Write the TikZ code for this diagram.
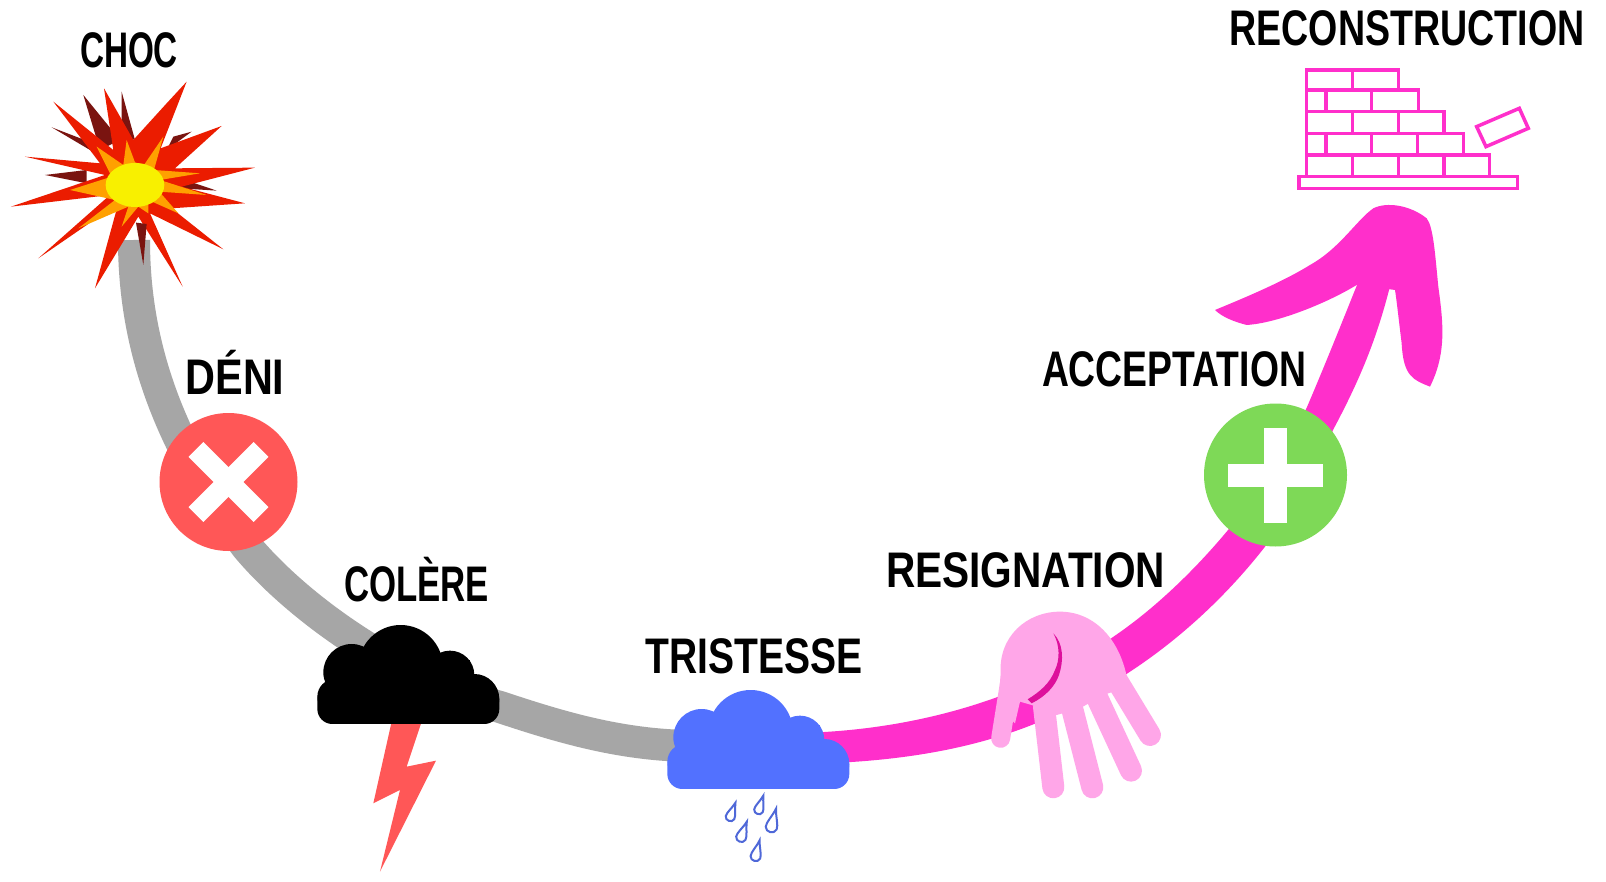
\documentclass[tikz,border=0pt]{standalone}
\usepackage{graphicx}
\usepackage{fontspec}
\usetikzlibrary{calc}
\setmainfont{Liberation Sans}
\definecolor{graycurve}{HTML}{A6A6A6}
\definecolor{pinkcurve}{HTML}{FF2FCB}
\definecolor{redsoft}{HTML}{FF5757}
\definecolor{greensoft}{HTML}{7ED957}
\definecolor{bluesoft}{HTML}{5271FF}
\definecolor{dropblue}{HTML}{4F68D8}
\definecolor{handpink}{HTML}{FFA6E8}
\definecolor{handline}{HTML}{DD109C}
\definecolor{burstred}{HTML}{EB1C00}
\definecolor{burstdark}{HTML}{7A1410}
\definecolor{burstorange}{HTML}{FFA000}
\definecolor{burstyellow}{HTML}{F8F000}
\pgfdeclareradialshading{burstcore}{\pgfpoint{0bp}{0bp}}{color(0bp)=(burstyellow);color(28bp)=(burstyellow);color(50bp)=(burstorange)}
\newbox\labbox
\newcommand\lab[2]{\setbox\labbox\hbox{\bfseries #2}\pgfmathsetmacro\labsx{#1/\the\wd\labbox}\scalebox{\labsx}[1]{\box\labbox}}
\newcommand\cloudat[3]{\begin{scope}[shift={(#1,#2)},scale=.3333]
    \fill[#3,rounded corners=15pt] (22,225) rectangle (568,342);
    \fill[#3] (272,172) circle (127);
    \fill[#3] (125,187) circle (85);
    \fill[#3] (420,195) circle (73);
    \fill[#3] (493,267) circle (75);
    \fill[#3] (75,260) circle (53);
    \fill[#3] (100,150) rectangle (480,300);
\end{scope}}
\newcommand\dropat[4]{\begin{scope}[shift={(#1,#2)},rotate=#3,scale=#4]
    \draw[draw=dropblue,line width=2pt,fill=white] (0,-11) .. controls (1.5,-4) and (5,1) .. (4.5,5) .. controls (3.5,9.5) and (-3.5,9.5) .. (-4.5,5) .. controls (-5,1) and (-1.5,-4) .. (0,-11) -- cycle;
\end{scope}}
\tikzset{
  lbl/.style={anchor=base,inner sep=0pt,font=\fontsize{50}{50}\selectfont},
  curveg/.style={draw=graycurve,line width=32pt},
  brick/.style={draw=pinkcurve,line width=3.5pt,line join=miter},
  fingerstyle/.style={draw=handpink,line width=22pt,line cap=round}
}
\begin{document}
\begin{tikzpicture}[x=1pt,y=-1pt]
\useasboundingbox (0,0) rectangle (1606,882);
\fill[white] (0,0) rectangle (1606,882);

% grey and pink curve
\draw[curveg] (134,240) .. controls (134,340) and (165,440) .. (247,547) .. controls (300,610) and (400,680) .. (500,707) .. controls (560,727) and (620,745) .. (690,746);
\fill[pinkcurve] (800,733) .. controls (930,730) and (1040,690) .. (1113,637) .. controls (1190,585) and (1270,490) .. (1307,407) .. controls (1325,365) and (1345,315) .. (1375,240)
  -- (1400,240) .. controls (1385,320) and (1365,370) .. (1333,430) .. controls (1300,515) and (1225,610) .. (1128,673) .. controls (1040,735) and (940,762) .. (800,764) -- cycle;

% arrowhead
\begin{scope}[shift={(1200,0)},scale=.3333]
\fill[pinkcurve] (45,930) .. controls (130,895) and (250,845) .. (330,795) .. controls (420,745) and (470,660) .. (520,625)
  .. controls (560,605) and (630,615) .. (680,655) .. controls (700,680) and (705,760) .. (715,860)
  .. controls (730,970) and (740,1060) .. (690,1160) .. controls (640,1140) and (610,1130) .. (605,1030)
  .. controls (595,950) and (590,900) .. (585,870) -- (470,855)
  .. controls (380,910) and (230,970) .. (140,975) .. controls (100,965) and (65,950) .. (45,930) -- cycle;
\end{scope}

% burst
\begin{scope}[scale=.3333]
\fill[burstdark] (250,285) -- (360,420) -- (300,450) -- cycle;
\fill[burstdark] (155,382) -- (280,430) -- (270,450) -- cycle;
\fill[burstdark] (365,275) -- (405,420) -- (365,410) -- cycle;
\fill[burstdark] (135,525) -- (260,510) -- (260,550) -- cycle;
\fill[burstdark] (575,395) -- (500,450) -- (520,410) -- cycle;
\fill[burstdark] (650,572) -- (540,535) -- (540,565) -- cycle;
\fill[burstred] (560,245) -- (482,445) -- (665,378) -- (525,505) -- (765,503) -- (545,560) -- (735,610) -- (515,625) -- (670,748)
 -- (450,640) -- (548,860) -- (415,650) -- (285,865) -- (355,610) -- (115,775) -- (330,585) -- (33,620) -- (315,525) -- (75,470)
 -- (300,490) -- (160,305) -- (340,450) -- (312,265) -- (400,420) -- (500,310) -- cycle;
\fill[burstdark] (408,668) -- (440,672) -- (430,795) -- cycle;
\fill[burstorange] (490,410) -- (462,510) -- (600,520) -- (480,540) -- (620,585) -- (478,575) -- (535,640) -- (445,600) -- (445,640)
 -- (415,620) -- (365,680) -- (385,620) -- (235,685) -- (345,600) -- (210,570) -- (335,530) -- (290,440) -- (370,495) -- (380,420) -- (405,487) -- (432,495) -- cycle;
\shade[shading=burstcore] (405,555) ellipse (88 and 66);
\end{scope}

% red circle with cross
\node[circle,fill=redsoft,minimum size=138pt,inner sep=0pt] (cross) at (228.5,482) {};
\fill[white,rotate around={45:(cross.center)}] ($(cross.center)+(-46,-10.5)$) rectangle ($(cross.center)+(46,10.5)$);
\fill[white,rotate around={-45:(cross.center)}] ($(cross.center)+(-46,-10.5)$) rectangle ($(cross.center)+(46,10.5)$);

% green circle with plus
\node[circle,fill=greensoft,minimum size=143pt,inner sep=0pt] (plus) at (1275.5,475) {};
\fill[white] ($(plus.center)+(-47.5,-11.5)$) rectangle ($(plus.center)+(47.5,11.5)$);
\fill[white] ($(plus.center)+(-11.5,-47.5)$) rectangle ($(plus.center)+(11.5,47.5)$);

% black cloud + lightning
\begin{scope}[shift={(310,610)},scale=.3333]
\fill[redsoft] (245,335) -- (335,335) -- (290,470) -- (378,452) -- (210,785) -- (270,540) -- (190,580) -- cycle;
\end{scope}
\cloudat{310}{610}{black}

% blue cloud + drops
\cloudat{660}{675}{bluesoft}
\dropat{731.7}{813}{-20}{1}
\dropat{760}{806}{-18}{1}
\dropat{772.7}{822}{-14}{1.25}
\dropat{742.7}{833}{-20}{1.1}
\dropat{756.7}{852}{-14}{1.1}

% hand
\begin{scope}[shift={(960,580)},scale=.3333]
\draw[fingerstyle,line width=19pt] (150,300) -- (122,475);
\draw[fingerstyle] (252,380) -- (280,622);
\draw[fingerstyle] (335,380) -- (397,622);
\draw[fingerstyle] (410,350) -- (513,572);
\draw[fingerstyle] (470,300) -- (570,465);
\fill[handpink] (122,280) .. controls (115,170) and (200,95) .. (300,95) .. controls (410,95) and (490,190) .. (505,320)
  -- (430,345) -- (360,385) -- (290,405) -- (215,375) -- (180,365) -- (165,430) -- (115,380) -- cycle;
\fill[handline] (280,160) .. controls (300,195) and (300,240) .. (285,270) .. controls (270,310) and (240,335) .. (203,358)
  -- (215,370) .. controls (255,350) and (285,320) .. (297,285) .. controls (312,240) and (310,190) .. (280,160) -- cycle;
\end{scope}

% wall
\begin{scope}[shift={(1200,0)},scale=.3333]
\draw[brick] (297,530) rectangle (952,565);
\draw[brick] (320,530) -- (320,210) -- (595,210) -- (595,270) -- (655,270) -- (655,335) -- (732,335) -- (732,400) -- (790,400) -- (790,465) -- (868,465) -- (868,530);
\draw[brick] (320,270) -- (595,270) (320,335) -- (655,335) (320,400) -- (732,400) (320,465) -- (790,465);
\draw[brick] (458,210) -- (458,270) (378,270) -- (378,335) (515,270) -- (515,335) (458,335) -- (458,400) (595,335) -- (595,400)
  (378,400) -- (378,465) (515,400) -- (515,465) (652,400) -- (652,465) (458,465) -- (458,530) (595,465) -- (595,530) (732,465) -- (732,530);
\draw[brick] (830,380) -- (958,325) -- (985,385) -- (858,440) -- cycle;
\end{scope}

% labels
\node[lbl] (choc) at (129,68) {\lab{98}{CHOC}};
\node[lbl] (deni) at (235,395) {\lab{99}{DÉNI}};
\node[lbl] (colere) at (416.5,601) {\lab{145}{COLÈRE}};
\node[lbl] (tristesse) at (754,673) {\lab{217}{TRISTESSE}};
\node[lbl] (resignation) at (1025.5,587) {\lab{279}{RESIGNATION}};
\node[lbl] (acceptation) at (1174,387) {\lab{264}{ACCEPTATION}};
\node[lbl] (reconstruction) at (1407,46) {\lab{355}{RECONSTRUCTION}};
\end{tikzpicture}
\end{document}
